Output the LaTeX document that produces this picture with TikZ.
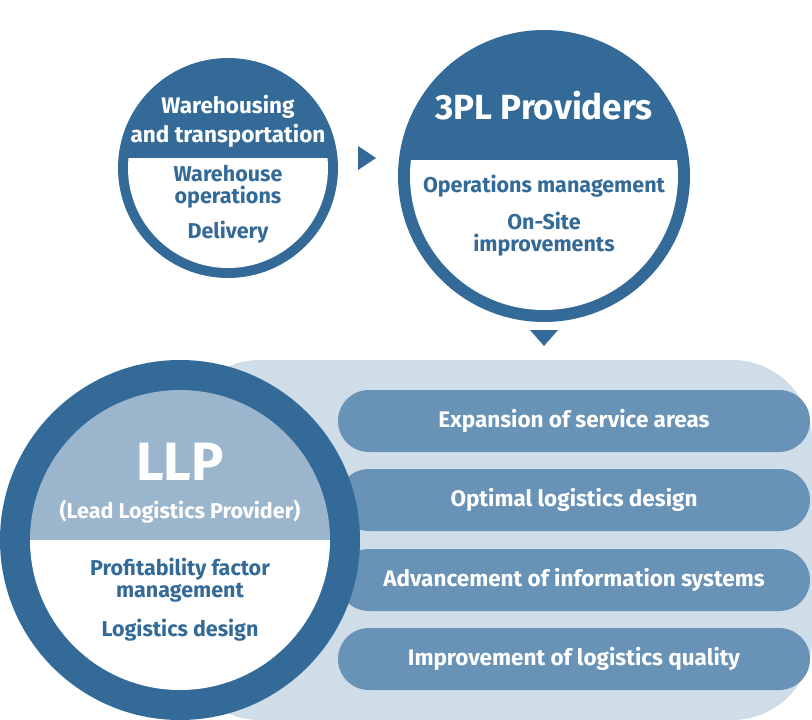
\documentclass[tikz,border=0pt]{standalone}
\usepackage{fontspec}
\setmainfont{Fira Sans}
\definecolor{dkb}{RGB}{52,106,152}
\definecolor{pil}{RGB}{104,146,182}
\definecolor{lbg}{RGB}{206,221,232}
\definecolor{mdb}{RGB}{155,181,204}
\tikzset{
  pill/.style={fill=pil,rounded corners=31pt,minimum width=472pt,minimum height=62pt,text=white,font=\bfseries\fontsize{22.5}{24}\selectfont},
  wtxt/.style={text=white,font=\bfseries,align=center},
  btxt/.style={text=dkb,font=\bfseries,align=center}
}
\begin{document}
\begin{tikzpicture}[x=1pt,y=-1pt]
    \useasboundingbox (0,0) rectangle (812,720);
    % background band
    \fill[lbg,rounded corners=80pt] (180,360) rectangle (812,720);
    % pills
    \node[pill] (p1) at (574,421) {Expansion of service areas};
    \node[pill] (p2) at (574,500) {Optimal logistics design};
    \node[pill] (p3) at (574,580) {Advancement of information systems};
    \node[pill] (p4) at (574,659) {Improvement of logistics quality};

    % small circle
    \fill[dkb] (228,168) circle (110);
    \begin{scope}
      \clip (100,158) rectangle (360,300);
      \fill[white] (228,168) circle (100);
    \end{scope}
    \node[wtxt,font=\bfseries\fontsize{22.5}{29}\selectfont] (wt) at (228,121) {Warehousing\\and transportation};
    \node[btxt,font=\bfseries\fontsize{21.5}{22}\selectfont] (wo) at (228,187) {Warehouse\\operations};
    \node[btxt,font=\bfseries\fontsize{21.5}{22}\selectfont] (de) at (228,232) {Delivery};

    % big circle
    \fill[dkb] (544,176) circle (146);
    \begin{scope}
      \clip (390,160) rectangle (700,330);
      \fill[white] (544,176) circle (134);
    \end{scope}
    \node[wtxt,font=\bfseries\fontsize{35}{38}\selectfont] (tp) at (544,106) {3PL Providers};
    \node[btxt,font=\bfseries\fontsize{21.5}{22}\selectfont] (om) at (544,186) {Operations management};
    \node[btxt,font=\bfseries\fontsize{21.5}{22}\selectfont] (os) at (544,234) {On-Site\\improvements};

    % triangles
    \fill[dkb] (358,146) -- (376,158) -- (358,170) -- cycle;
    \fill[dkb] (530,330) -- (558,330) -- (544,346) -- cycle;

    % LLP circle
    \fill[dkb] (180,540) circle (180);
    \begin{scope}
      \clip (0,350) rectangle (360,540);
      \fill[mdb] (180,540) circle (150);
    \end{scope}
    \begin{scope}
      \clip (0,540) rectangle (360,720);
      \fill[white] (180,540) circle (150);
    \end{scope}
    \node[wtxt,font=\bfseries\fontsize{54}{58}\selectfont] (llp) at (180,462) {LLP};
    \node[wtxt,font=\bfseries\fontsize{21.5}{22}\selectfont] (lp) at (180,512) {(Lead Logistics Provider)};
    \node[btxt,font=\bfseries\fontsize{21.5}{22}\selectfont] (pf) at (180,580) {Profitability factor\\management};
    \node[btxt,font=\bfseries\fontsize{21.5}{22}\selectfont] (ld) at (180,630) {Logistics design};
\end{tikzpicture}
\end{document}
